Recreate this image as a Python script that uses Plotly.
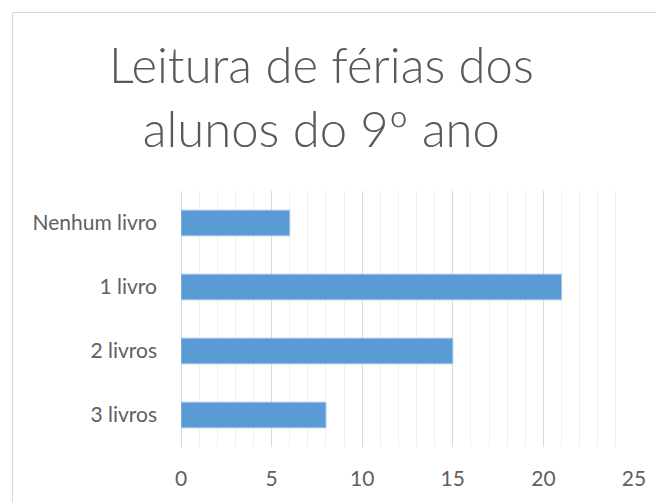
import plotly.graph_objects as go

categories = ["Nenhum livro", "1 livro", "2 livros", "3 livros"]
values = [6, 21, 15, 8]
x_ticks = [0, 5, 10, 15, 20, 25]

# page body adds an 8px offset, so the figure is laid out in page coords minus 8
OFF = 8
W, H = 664 - OFF, 502 - OFF
ml, mt = 181 - OFF, 191 - OFF
pw, ph = 453, 256
mr = W - ml - pw
mb = H - mt - ph

def px_to_paper_x(px):
    return (px - OFF - ml) / pw

def py_to_paper_y(py):
    return 1 - (py - OFF - mt) / ph

fig = go.Figure(go.Bar(
    y=categories,
    x=values,
    orientation="h",
    marker=dict(color="#5b9bd5", line=dict(color="#9dc3e6", width=1)),
    width=0.4,
))

fig.update_layout(
    width=W, height=H,
    margin=dict(l=ml, r=mr, t=mt, b=mb),
    paper_bgcolor="white",
    plot_bgcolor="white",
    showlegend=False,
    font=dict(family="Lato", color="#595959"),
    xaxis=dict(
        range=[0, 25],
        tickvals=x_ticks,
        ticktext=[str(t) for t in x_ticks],
        showgrid=True,
        gridcolor="#d9d9d9",
        gridwidth=1,
        minor=dict(dtick=1, showgrid=True, gridcolor="#f0f0f0", gridwidth=1),
        zeroline=True,
        zerolinecolor="#d9d9d9",
        zerolinewidth=1,
        showline=False,
        automargin=False,
        tickfont=dict(size=21, color="#606060"),
        ticks="",
        ticklabelstandoff=17,
    ),
    yaxis=dict(
        categoryorder="array",
        categoryarray=categories[::-1],
        showgrid=False,
        zeroline=False,
        showline=False,
        automargin=False,
        ticks="",
        tickfont=dict(size=21, color="#606060"),
        ticklabelstandoff=23,
    ),
    shapes=[dict(
        type="rect", xref="paper", yref="paper",
        x0=px_to_paper_x(12.5), x1=px_to_paper_x(700),
        y0=py_to_paper_y(540), y1=py_to_paper_y(12.5),
        line=dict(color="#d9d9d9", width=1),
        fillcolor="rgba(0,0,0,0)",
        layer="below",
    )],
    annotations=[dict(
        text="Leitura de férias dos<br>alunos do 9º ano",
        xref="paper", yref="paper",
        x=px_to_paper_x(321), y=py_to_paper_y(96),
        xanchor="center", yanchor="middle",
        showarrow=False,
        font=dict(family="Lato", size=49, color="#595959", weight=300),
        align="center",
    )],
)

fig.write_html("out.html")
